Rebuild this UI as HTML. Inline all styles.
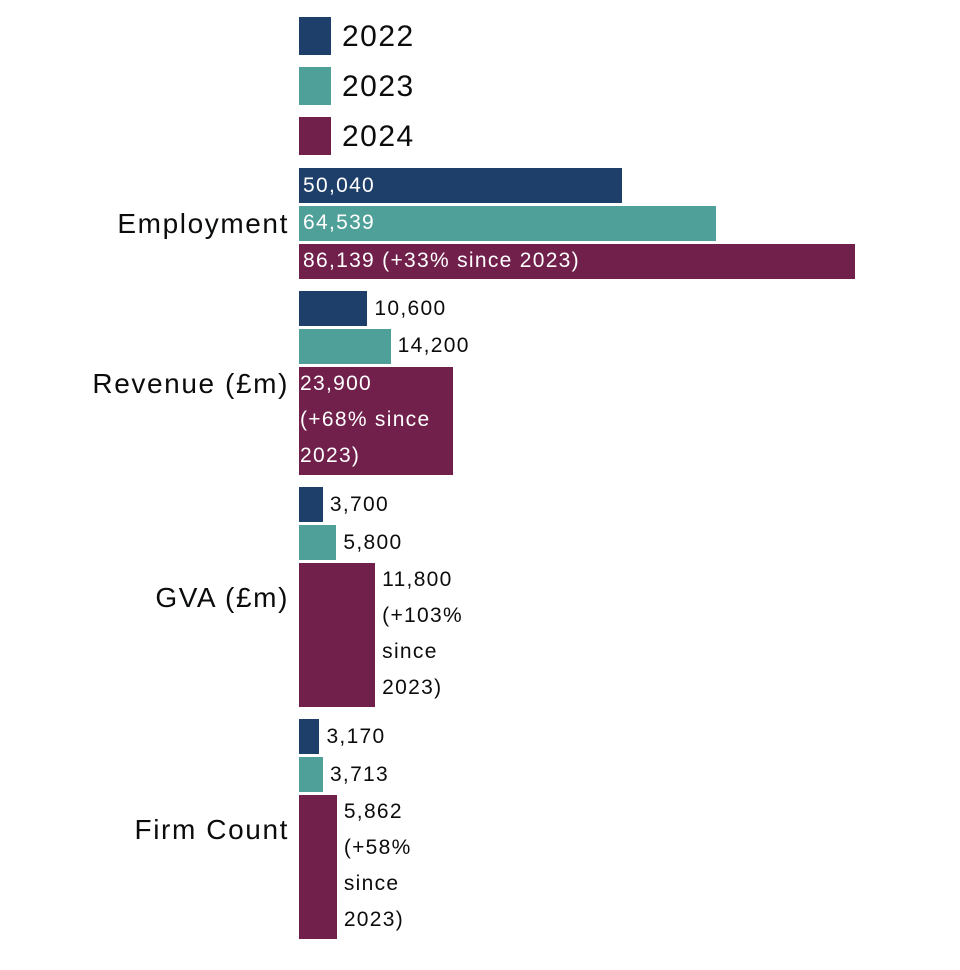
<!DOCTYPE html>
<html><head><meta charset="utf-8">
<style>
html,body{margin:0;padding:0;background:#fff;}
body{width:960px;height:970px;position:relative;overflow:hidden;font-family:"Liberation Sans",sans-serif;color:#0b0c0c;}
.abs{position:absolute;}
.lbl{font-size:21px;line-height:36px;white-space:pre;letter-spacing:1.3px;}
.cat{font-size:28px;text-align:right;width:290px;left:-1px;letter-spacing:1.6px;}
.leg{font-size:30px;left:342px;letter-spacing:1.5px;}
</style></head>
<body>
<div id="chart"></div>
<script>
const categories = ["Employment","Revenue (£m)","GVA (£m)","Firm Count"];
const seriesNames = ["2022","2023","2024"];
const values2022 = [50040,10600,3700,3170];
const values2023 = [64539,14200,5800,3713];
const values2024 = [86139,23900,11800,5862];
const labels2022 = ["50,040","10,600","3,700","3,170"];
const labels2023 = ["64,539","14,200","5,800","3,713"];
const labels2024 = ["86,139 (+33% since 2023)","23,900\n(+68% since\n2023)","11,800\n(+103%\nsince\n2023)","5,862\n(+58%\nsince\n2023)"];
const insideLabel = [[true,true,true],[false,false,true],[false,false,false],[false,false,false]];

const colors = ["#1f3f6b","#4fa098","#71204c"];
const chart = document.getElementById('chart');
const x0 = 299;
const maxVal = 86139, maxPx = 556;
function xScale(v){ return v / maxVal * maxPx; }
const lineH = 36, gap = 2.8, groupGap = 12.5;

seriesNames.forEach((n,i)=>{
  const sq=document.createElement('div');
  sq.className='abs';
  sq.style.cssText=`left:299px;top:${17+i*50}px;width:32px;height:38px;background:${colors[i]}`;
  
  
  chart.appendChild(sq);
  const t=document.createElement('div');
  t.className='abs leg';
  t.style.top=(17+i*50-1)+'px';
  t.style.lineHeight='42px';
  t.textContent=n;
  
  
  chart.appendChild(t);
});

const series=[values2022,values2023,values2024];
const labs=[labels2022,labels2023,labels2024];
let y=168;
categories.forEach((c,ci)=>{
  const gTop=y;
  for(let s=0;s<3;s++){
    const txt=labs[s][ci];
    const lines=txt.split('\n').length;
    const h=lines===1?35:lines*lineH;
    const w=xScale(series[s][ci]);
    const b=document.createElement('div');
    b.className='abs';
    b.style.cssText=`left:${x0}px;top:${y}px;width:${w}px;height:${h}px;background:${colors[s]}`;
    
    
    chart.appendChild(b);
    const l=document.createElement('div');
    l.className='abs lbl';
    const inside=insideLabel[ci][s];
    l.style.left=(inside? (lines>1? x0+1 : x0+4) : x0+w+7)+'px';
    l.style.top=(y-0.5)+'px';
    l.style.color=inside?'#fff':'#0b0c0c';
    l.textContent=txt;
    
    
    chart.appendChild(l);
    y+=h+gap;
  }
  const gBot=y-gap;
  const cl=document.createElement('div');
  cl.className='abs cat';
  cl.style.top=((gTop+gBot)/2-17)+'px';
  cl.style.lineHeight='36px';
  cl.textContent=c;
  
  
  chart.appendChild(cl);
  y+=groupGap-gap;
});
</script>
</body></html>
